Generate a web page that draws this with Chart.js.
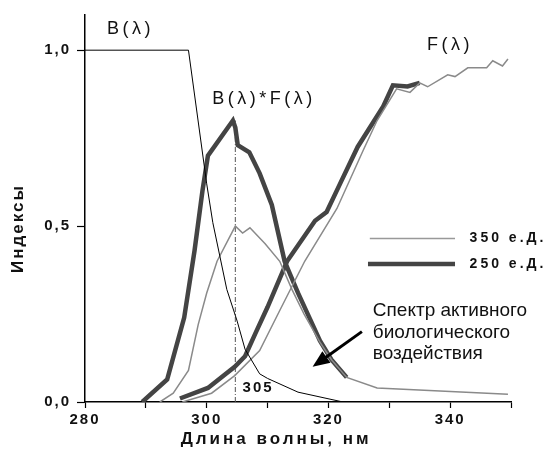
<!DOCTYPE html>
<html>
<head>
<meta charset="utf-8">
<script src="https://cdn.jsdelivr.net/npm/chart.js@4"></script>
<style>
  body { margin: 0; background: #fff; }
  #wrap { width: 548px; height: 457px; }
</style>
</head>
<body>
<div id="wrap"><canvas id="myChart" width="548" height="457"></canvas></div>
<script>
// B(λ) - action weighting
const bLam = [280, 297, 300, 301, 303.3, 305, 306.3, 308.7, 310, 315, 322.4];
const bVal = [1, 1, 0.62, 0.51, 0.32, 0.23, 0.15, 0.08, 0.067, 0.028, 0];

// F(λ) for 250 e.D. (thick) and 350 e.D. (thin)
const f250Lam = [295.6, 300.2, 304.6, 306.3, 308, 310, 313.2, 317.8, 319.7, 321.9, 324.8, 329, 330.6, 333, 335];
const f250Val = [0.01, 0.04, 0.10, 0.13, 0.195, 0.27, 0.40, 0.515, 0.54, 0.62, 0.725, 0.84, 0.90, 0.897, 0.907];
const f350Lam = [296, 300.8, 304.6, 308.7, 312, 316.1, 321.4, 325.7, 328, 331.2, 333.4, 335, 336.3, 339.6, 340.8, 342.9, 346, 347, 348.6, 349.5];
const f350Val = [0, 0.025, 0.075, 0.146, 0.26, 0.40, 0.55, 0.715, 0.80, 0.89, 0.88, 0.907, 0.896, 0.93, 0.925, 0.95, 0.95, 0.97, 0.955, 0.975];

// B(λ)*F(λ)
const p250Lam = [289.4, 293.5, 296.3, 298, 299.3, 300.2, 304.3, 304.7, 305.1, 307, 308.7, 310.7, 312.8, 315, 317, 318.6, 320.5, 323];
const p250Val = [0, 0.064, 0.24, 0.43, 0.6, 0.70, 0.80, 0.78, 0.73, 0.71, 0.65, 0.56, 0.40, 0.31, 0.235, 0.174, 0.12, 0.07];
const p350Lam = [292.3, 294.5, 297, 298.6, 300, 301.7, 304.7, 305.9, 307.1, 309.6, 312, 314, 316, 318.6, 320.5, 323, 328, 349.5];
const p350Val = [0, 0.025, 0.09, 0.22, 0.31, 0.40, 0.50, 0.48, 0.495, 0.45, 0.40, 0.32, 0.25, 0.17, 0.12, 0.07, 0.04, 0.022];

// peak marker
const peakLam = 304.7;
const peakVal = 0.8;

const xTicks = [280, 290, 300, 310, 320, 330, 340, 350];
const yTicks = [0, 0.5, 1.0];

const zip = (xs, ys) => xs.map((x, i) => ({ x: x, y: ys[i] }));

const FONT = "'Liberation Sans', Arial, sans-serif";
const DARK = '#444';
const GRAY = '#8a8a8a';

function thin(data, color, w) {
    return { data: data, borderColor: color, borderWidth: w, pointRadius: 0, tension: 0, fill: false };
}

const labels = {
    id: 'labels',
    afterDraw(chart) {
        const c = chart.ctx;
        const X = v => chart.scales.x.getPixelForValue(v);
        const Y = v => chart.scales.y.getPixelForValue(v);
        const text = (s, lx, ly, font, spacing, align) => {
            c.save();
            c.font = font;
            c.letterSpacing = spacing;
            c.fillStyle = '#111';
            c.textAlign = align || 'left';
            c.textBaseline = 'middle';
            c.fillText(s, X(lx), Y(ly));
            c.restore();
        };

        text('B(λ)', 283.6, 1.06, '18px ' + FONT, '3.5px');
        text('B(λ)*F(λ)', 300.9, 0.86, '18px ' + FONT, '3.5px');
        text('F(λ)', 336.2, 1.014, '18px ' + FONT, '3.5px');
        text('305', 305.9, 0.04, 'bold 15px ' + FONT, '2px');

        // legend
        c.save();
        c.strokeStyle = '#999';
        c.lineWidth = 1.5;
        c.beginPath();
        c.moveTo(X(326.8), Y(0.465));
        c.lineTo(X(340.8), Y(0.465));
        c.stroke();
        c.strokeStyle = DARK;
        c.lineWidth = 4.5;
        c.beginPath();
        c.moveTo(X(326.5), Y(0.392));
        c.lineTo(X(340.8), Y(0.392));
        c.stroke();
        c.restore();
        text('350 е.Д.', 343.2, 0.465, 'bold 14px ' + FONT, '3px');
        text('250 е.Д.', 343.2, 0.392, 'bold 14px ' + FONT, '3px');

        // annotation
        text('Спектр активного', 327.3, 0.258, '19px ' + FONT, '0px');
        text('биологического', 327.3, 0.196, '19px ' + FONT, '0px');
        text('воздействия', 327.3, 0.137, '19px ' + FONT, '0px');

        // arrow
        const x0 = X(325.5), y0 = Y(0.20), x1 = X(317.4), y1 = Y(0.10);
        const ang = Math.atan2(y1 - y0, x1 - x0);
        c.save();
        c.strokeStyle = '#000';
        c.fillStyle = '#000';
        c.lineWidth = 3;
        c.beginPath();
        c.moveTo(x0, y0);
        c.lineTo(x1 - 10 * Math.cos(ang), y1 - 10 * Math.sin(ang));
        c.stroke();
        c.beginPath();
        c.moveTo(x1, y1);
        c.lineTo(x1 - 17 * Math.cos(ang) + 7 * Math.sin(ang), y1 - 17 * Math.sin(ang) - 7 * Math.cos(ang));
        c.lineTo(x1 - 17 * Math.cos(ang) - 7 * Math.sin(ang), y1 - 17 * Math.sin(ang) + 7 * Math.cos(ang));
        c.closePath();
        c.fill();
        c.restore();

        // axis titles
        text('Длина волны, нм', 311.4, -0.106, 'bold 17px ' + FONT, '3px', 'center');
        c.save();
        c.translate(X(269), Y(0.493));
        c.rotate(-Math.PI / 2);
        c.font = 'bold 17px ' + FONT;
        c.letterSpacing = '2px';
        c.fillStyle = '#111';
        c.textAlign = 'center';
        c.textBaseline = 'middle';
        c.fillText('Индексы', 0, 0);
        c.restore();
    }
};

const spacing = {
    id: 'spacing',
    beforeDraw(chart) { chart.ctx.letterSpacing = '2px'; },
    afterDraw(chart) { chart.ctx.letterSpacing = '0px'; }
};

Chart.defaults.font.family = FONT;

const chart = new Chart(document.getElementById('myChart'), {
    type: 'line',
    data: {
        datasets: [
            thin(zip(bLam, bVal), '#000', 1),
            thin(zip(p350Lam, p350Val), GRAY, 1.5),
            thin(zip(f350Lam, f350Val), GRAY, 1.5),
            thin(zip(p250Lam, p250Val), DARK, 4.5),
            thin(zip(f250Lam, f250Val), DARK, 4.5),
            Object.assign(thin(zip([peakLam, peakLam], [0, peakVal]), '#555', 1), { borderDash: [5, 2, 1, 2] })
        ]
    },
    options: {
        responsive: false,
        animation: false,
        devicePixelRatio: 1,
        layout: { padding: { left: 0, right: 37, top: 3, bottom: 0 } },
        plugins: { legend: { display: false }, tooltip: { enabled: false } },
        scales: {
            x: {
                type: 'linear',
                min: 280,
                max: 350,
                afterBuildTicks: s => { s.ticks = xTicks.map(v => ({ value: v })); },
                afterFit: s => { s.height = 55; },
                ticks: {
                    color: '#111',
                    font: { size: 15, weight: 'bold' },
                    padding: 3,
                    maxRotation: 0,
                    autoSkip: false,
                    callback: v => (v % 20 === 0 ? String(v) : '')
                },
                grid: { drawOnChartArea: false, color: '#000', tickLength: 6, tickWidth: 1.2 },
                border: { color: '#000', width: 1.5 }
            },
            y: {
                min: 0,
                max: 1.1,
                afterBuildTicks: s => { s.ticks = yTicks.map(v => ({ value: v })); },
                afterFit: s => { s.width = 85; },
                ticks: {
                    color: '#111',
                    font: { size: 15, weight: 'bold' },
                    padding: 6,
                    callback: v => v.toFixed(1).replace('.', ',')
                },
                grid: { drawOnChartArea: false, color: '#000', tickLength: 8, tickWidth: 1.2 },
                border: { color: '#000', width: 1.5 }
            }
        }
    },
    plugins: [spacing, labels]
});
</script>
</body>
</html>
